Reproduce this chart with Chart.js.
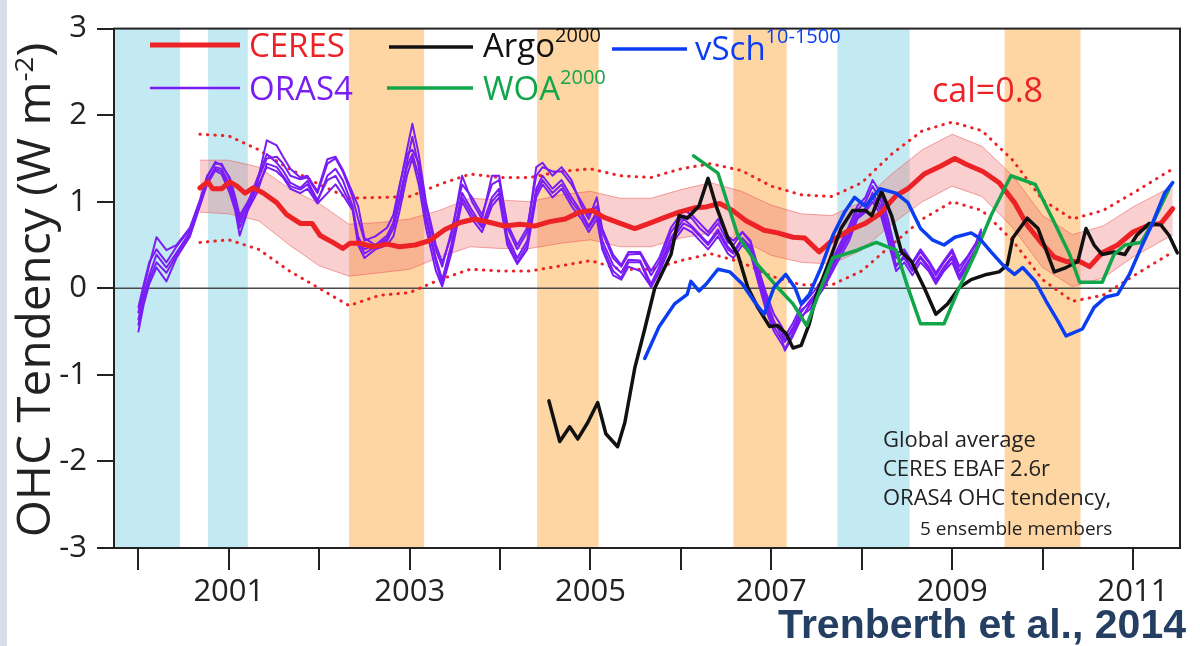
<!DOCTYPE html>
<html>
<head>
<meta charset="utf-8">
<script src="https://cdn.jsdelivr.net/npm/chart.js@4.4.1/dist/chart.umd.min.js"></script>
<style>
  html, body { margin: 0; padding: 0; background: #fff; }
  #wrap { width: 1200px; height: 646px; }
</style>
</head>
<body>
<div id="wrap"><canvas id="ohc" width="1200" height="646"></canvas></div>
<script>
// ENSO shading (decimal years)
const coldSpans = [[1999.6, 2000.46], [2000.77, 2001.21], [2007.73, 2008.53]];
const warmSpans = [[2002.33, 2003.16], [2004.41, 2005.09], [2006.58, 2007.17], [2009.58, 2010.42]];

const xTickYears = [2001, 2003, 2005, 2007, 2009, 2011];

// CERES (calibrated), [year, W m-2]
const ceres = [
  [2000.68, 1.16], [2000.77, 1.23], [2000.82, 1.15], [2000.92, 1.15], [2001.01, 1.23],
  [2001.09, 1.18], [2001.18, 1.10], [2001.27, 1.16], [2001.38, 1.10], [2001.53, 0.99],
  [2001.64, 0.85], [2001.79, 0.75], [2001.92, 0.75], [2002.01, 0.61], [2002.15, 0.53],
  [2002.26, 0.46], [2002.34, 0.52], [2002.45, 0.52], [2002.59, 0.48], [2002.75, 0.51],
  [2002.89, 0.48], [2003.06, 0.50], [2003.22, 0.55], [2003.39, 0.68], [2003.56, 0.76],
  [2003.72, 0.80], [2003.89, 0.76], [2004.05, 0.72], [2004.22, 0.74], [2004.39, 0.72],
  [2004.55, 0.77], [2004.72, 0.80], [2004.88, 0.88], [2005.02, 0.90], [2005.15, 0.82],
  [2005.33, 0.75], [2005.49, 0.69], [2005.65, 0.75], [2005.80, 0.81], [2005.98, 0.88],
  [2006.15, 0.93], [2006.28, 0.94], [2006.43, 0.98], [2006.57, 0.90], [2006.72, 0.78],
  [2006.92, 0.67], [2007.07, 0.64], [2007.24, 0.59], [2007.37, 0.58], [2007.53, 0.42],
  [2007.68, 0.56], [2007.86, 0.67], [2008.04, 0.75], [2008.20, 0.86], [2008.38, 1.07],
  [2008.51, 1.15], [2008.69, 1.32], [2008.87, 1.41], [2009.03, 1.50], [2009.16, 1.43],
  [2009.34, 1.35], [2009.52, 1.22], [2009.69, 0.99], [2009.83, 0.73], [2009.99, 0.52],
  [2010.13, 0.36], [2010.26, 0.31], [2010.41, 0.31], [2010.52, 0.25], [2010.66, 0.41],
  [2010.83, 0.50], [2011.00, 0.65], [2011.18, 0.73], [2011.31, 0.75], [2011.44, 0.92]
];

// CERES uncertainty: shaded band and dotted outer bounds
const bandT  = [2000.68, 2001.0, 2001.33, 2001.67, 2002.0, 2002.33, 2002.67, 2003.0, 2003.33, 2003.67, 2004.0,
                2004.33, 2004.67, 2005.0, 2005.33, 2005.67, 2006.0, 2006.33, 2006.67, 2007.0, 2007.33, 2007.67,
                2008.0, 2008.33, 2008.67, 2009.0, 2009.33, 2009.67, 2010.0, 2010.33, 2010.67, 2011.0, 2011.44];
const bandHi = [1.48, 1.48, 1.40, 1.15, 0.98, 0.74, 0.76, 0.80, 0.90, 1.04, 1.02,
                1.00, 1.08, 1.12, 1.04, 1.04, 1.14, 1.22, 1.12, 0.96, 0.86, 0.84,
                1.00, 1.32, 1.60, 1.78, 1.64, 1.30, 0.84, 0.62, 0.72, 0.94, 1.18];
const bandLo = [0.88, 0.86, 0.78, 0.50, 0.26, 0.14, 0.18, 0.22, 0.36, 0.48, 0.46,
                0.46, 0.52, 0.56, 0.48, 0.48, 0.58, 0.64, 0.56, 0.38, 0.30, 0.28,
                0.44, 0.74, 1.00, 1.18, 1.06, 0.70, 0.24, 0.02, 0.12, 0.36, 0.62];
const dotHi  = [1.78, 1.76, 1.60, 1.38, 1.20, 1.04, 1.05, 1.06, 1.20, 1.32, 1.28,
                1.28, 1.35, 1.38, 1.30, 1.28, 1.38, 1.44, 1.36, 1.18, 1.08, 1.06,
                1.22, 1.55, 1.82, 1.92, 1.82, 1.48, 1.02, 0.80, 0.90, 1.10, 1.38];
const dotLo  = [0.53, 0.56, 0.45, 0.20, 0.00, -0.20, -0.08, -0.05, 0.10, 0.22, 0.20,
                0.20, 0.26, 0.32, 0.22, 0.22, 0.32, 0.40, 0.30, 0.14, 0.04, 0.04,
                0.20, 0.50, 0.80, 1.00, 0.90, 0.55, 0.10, -0.15, -0.08, 0.14, 0.42];

// ORAS4 OHC tendency, 5 ensemble members on a shared time axis
const orasT = [
  2000.00, 2000.06, 2000.12, 2000.20, 2000.31, 2000.42, 2000.57, 2000.68, 2000.76, 2000.85,
  2000.92, 2001.01, 2001.07, 2001.12, 2001.21, 2001.31, 2001.42, 2001.53, 2001.60, 2001.68,
  2001.79, 2001.87, 2001.98, 2002.09, 2002.18, 2002.26, 2002.37, 2002.43, 2002.50, 2002.62,
  2002.75, 2002.82, 2002.89, 2002.97, 2003.03, 2003.10, 2003.18, 2003.29, 2003.36, 2003.46,
  2003.58, 2003.69, 2003.80, 2003.91, 2003.99, 2004.08, 2004.19, 2004.30, 2004.40, 2004.47,
  2004.58, 2004.68, 2004.79, 2004.90, 2004.98, 2005.07, 2005.13, 2005.25, 2005.34, 2005.42,
  2005.55, 2005.67, 2005.76, 2005.89, 2006.03, 2006.12, 2006.21, 2006.30, 2006.41, 2006.52,
  2006.58, 2006.68, 2006.77, 2006.86, 2006.94, 2007.03, 2007.12, 2007.15, 2007.24, 2007.33,
  2007.42, 2007.50, 2007.59, 2007.73, 2007.86, 2007.95, 2008.04, 2008.12, 2008.21, 2008.29,
  2008.38, 2008.47, 2008.56, 2008.65, 2008.74, 2008.82, 2008.91, 2009.00, 2009.08, 2009.17,
  2009.26, 2009.32
];
const oras1 = [
  -0.50, -0.18, 0.05, 0.24, 0.08, 0.35, 0.60, 0.95, 1.20, 1.36,
  1.32, 1.10, 0.90, 0.61, 0.90, 1.10, 1.44, 1.40, 1.30, 1.18,
  1.14, 1.20, 1.00, 1.30, 1.38, 1.25, 0.95, 0.60, 0.45, 0.50,
  0.55, 0.70, 1.00, 1.40, 1.55, 1.30, 0.80, 0.30, 0.05, 0.45,
  1.05, 0.85, 0.70, 1.00, 1.10, 0.55, 0.30, 0.50, 1.10, 1.25,
  1.10, 1.20, 1.00, 0.85, 0.70, 0.85, 0.50, 0.20, 0.12, 0.30,
  0.30, 0.01, 0.20, 0.55, 0.75, 0.70, 0.60, 0.50, 0.65, 0.45,
  0.40, 0.55, 0.45, 0.10, -0.20, -0.45, -0.60, -0.72, -0.55, -0.35,
  -0.20, -0.10, 0.05, 0.35, 0.60, 0.82, 0.90, 1.05, 0.90, 0.60,
  0.27, 0.35, 0.20, 0.35, 0.22, 0.08, 0.22, 0.35, 0.12, 0.27,
  0.42, 0.60
];
const oras2 = [
  -0.28, 0.00, 0.27, 0.59, 0.44, 0.50, 0.70, 1.02, 1.30, 1.44,
  1.44, 1.26, 1.03, 0.80, 0.95, 1.20, 1.71, 1.65, 1.52, 1.38,
  1.28, 1.30, 1.12, 1.49, 1.52, 1.37, 1.10, 0.95, 0.58, 0.50,
  0.61, 0.76, 1.18, 1.60, 1.90, 1.55, 1.00, 0.50, 0.30, 0.60,
  1.30, 1.00, 0.80, 1.30, 1.30, 0.70, 0.45, 0.65, 1.40, 1.45,
  1.30, 1.40, 1.25, 0.95, 0.80, 1.05, 0.69, 0.39, 0.27, 0.42,
  0.42, 0.20, 0.35, 0.70, 0.90, 0.85, 0.75, 0.65, 0.80, 0.60,
  0.55, 0.65, 0.55, 0.22, -0.05, -0.30, -0.45, -0.55, -0.40, -0.20,
  -0.10, 0.00, 0.15, 0.45, 0.72, 0.95, 1.05, 1.25, 1.10, 0.80,
  0.40, 0.45, 0.30, 0.45, 0.32, 0.18, 0.32, 0.45, 0.25, 0.37,
  0.52, 0.68
];
const oras3 = [
  -0.36, -0.08, 0.15, 0.39, 0.24, 0.41, 0.65, 0.99, 1.22, 1.40,
  1.38, 1.20, 0.98, 0.70, 0.92, 1.16, 1.40, 1.35, 1.28, 1.15,
  1.10, 1.15, 0.98, 1.10, 1.20, 1.08, 0.90, 0.50, 0.35, 0.45,
  0.50, 0.60, 0.90, 1.30, 1.50, 1.20, 0.70, 0.20, 0.02, 0.40,
  1.00, 0.80, 0.65, 0.95, 1.05, 0.50, 0.28, 0.45, 1.05, 1.20,
  1.05, 1.15, 0.95, 0.80, 0.65, 0.80, 0.45, 0.15, 0.10, 0.25,
  0.20, 0.02, 0.18, 0.50, 0.70, 0.65, 0.55, 0.45, 0.60, 0.40,
  0.35, 0.50, 0.40, 0.05, -0.25, -0.50, -0.65, -0.70, -0.52, -0.32,
  -0.25, -0.12, 0.02, 0.30, 0.55, 0.80, 0.88, 1.00, 0.85, 0.55,
  0.20, 0.30, 0.15, 0.30, 0.20, 0.05, 0.20, 0.30, 0.10, 0.25,
  0.40, 0.55
];
const oras4 = [
  -0.22, 0.05, 0.30, 0.45, 0.30, 0.48, 0.68, 1.00, 1.28, 1.46,
  1.42, 1.28, 1.06, 0.84, 1.00, 1.22, 1.50, 1.52, 1.44, 1.30,
  1.26, 1.28, 1.10, 1.44, 1.50, 1.35, 1.05, 0.80, 0.55, 0.60,
  0.70, 0.85, 1.20, 1.55, 1.60, 1.45, 0.95, 0.45, 0.25, 0.65,
  1.20, 1.05, 0.85, 1.20, 1.25, 0.75, 0.50, 0.70, 1.30, 1.40,
  1.35, 1.35, 1.20, 1.00, 0.85, 0.95, 0.65, 0.35, 0.25, 0.39,
  0.40, 0.15, 0.30, 0.65, 0.84, 0.81, 0.69, 0.61, 0.75, 0.53,
  0.50, 0.65, 0.53, 0.19, -0.10, -0.38, -0.56, -0.62, -0.48, -0.28,
  -0.15, -0.05, 0.10, 0.42, 0.68, 0.90, 1.00, 1.18, 1.02, 0.72,
  0.35, 0.42, 0.28, 0.42, 0.30, 0.15, 0.30, 0.42, 0.20, 0.35,
  0.50, 0.65
];
const oras5 = [
  -0.42, -0.12, 0.10, 0.30, 0.18, 0.38, 0.62, 0.96, 1.24, 1.38,
  1.35, 1.15, 0.95, 0.76, 0.98, 1.26, 1.55, 1.45, 1.36, 1.22,
  1.16, 1.24, 1.02, 1.25, 1.30, 1.15, 0.92, 0.55, 0.40, 0.48,
  0.58, 0.70, 1.05, 1.45, 1.75, 1.40, 0.85, 0.35, 0.10, 0.50,
  1.10, 0.90, 0.72, 1.05, 1.15, 0.60, 0.35, 0.55, 1.15, 1.30,
  1.15, 1.25, 1.05, 0.88, 0.72, 0.88, 0.55, 0.27, 0.18, 0.33,
  0.32, 0.05, 0.25, 0.58, 0.80, 0.72, 0.62, 0.52, 0.68, 0.48,
  0.42, 0.58, 0.48, 0.12, -0.15, -0.42, -0.50, -0.60, -0.45, -0.25,
  -0.18, -0.07, 0.08, 0.38, 0.63, 0.85, 0.92, 1.10, 0.95, 0.65,
  0.25, 0.38, 0.22, 0.37, 0.25, 0.10, 0.25, 0.37, 0.15, 0.30,
  0.45, 0.62
];

// Argo (0-2000 m)
const argo = [
  [2004.54, -1.30], [2004.66, -1.77], [2004.77, -1.60], [2004.86, -1.74], [2004.97, -1.55],
  [2005.08, -1.32], [2005.17, -1.68], [2005.30, -1.83], [2005.38, -1.55], [2005.49, -0.92],
  [2005.60, -0.47], [2005.71, 0.00], [2005.89, 0.39], [2005.98, 0.84], [2006.07, 0.81],
  [2006.20, 0.95], [2006.30, 1.27], [2006.39, 0.95], [2006.52, 0.58], [2006.63, 0.39],
  [2006.74, 0.01], [2006.85, -0.22], [2006.98, -0.44], [2007.07, -0.43], [2007.16, -0.52],
  [2007.24, -0.69], [2007.33, -0.66], [2007.42, -0.41], [2007.50, -0.07], [2007.64, 0.31],
  [2007.77, 0.69], [2007.90, 0.90], [2008.04, 0.90], [2008.11, 0.84], [2008.22, 1.12],
  [2008.33, 0.84], [2008.44, 0.42], [2008.55, 0.31], [2008.69, 0.01], [2008.82, -0.30],
  [2008.95, -0.18], [2009.08, 0.01], [2009.21, 0.10], [2009.38, 0.16], [2009.52, 0.19],
  [2009.61, 0.27], [2009.67, 0.58], [2009.83, 0.81], [2009.95, 0.69], [2010.13, 0.19],
  [2010.26, 0.24], [2010.39, 0.31], [2010.48, 0.69], [2010.57, 0.50], [2010.66, 0.39],
  [2010.79, 0.42], [2010.91, 0.39], [2011.04, 0.61], [2011.18, 0.75], [2011.31, 0.73],
  [2011.40, 0.61], [2011.49, 0.41]
];

// WOA (0-2000 m)
const woa = [
  [2006.14, 1.53], [2006.41, 1.33], [2006.63, 0.61], [2006.85, 0.27], [2007.07, 0.01],
  [2007.24, -0.18], [2007.39, -0.43], [2007.55, 0.01], [2007.68, 0.35], [2007.95, 0.44],
  [2008.16, 0.53], [2008.38, 0.44], [2008.51, 0.01], [2008.65, -0.41], [2008.91, -0.41],
  [2009.08, 0.01], [2009.25, 0.39], [2009.43, 0.84], [2009.65, 1.30], [2009.92, 1.20],
  [2010.13, 0.76], [2010.30, 0.39], [2010.41, 0.07], [2010.66, 0.07], [2010.79, 0.39],
  [2010.91, 0.50], [2011.09, 0.53], [2011.22, 0.76], [2011.40, 1.15]
];

// von Schuckmann (10-1500 m)
const vsch = [
  [2005.60, -0.81], [2005.76, -0.44], [2005.93, -0.18], [2006.07, -0.07], [2006.11, 0.08],
  [2006.20, -0.03], [2006.28, 0.05], [2006.41, 0.22], [2006.54, 0.19], [2006.68, 0.05],
  [2006.81, -0.15], [2006.92, -0.30], [2007.03, 0.01], [2007.16, 0.16], [2007.26, 0.01],
  [2007.33, -0.18], [2007.42, -0.07], [2007.55, 0.24], [2007.68, 0.61], [2007.81, 0.88],
  [2007.92, 1.05], [2008.04, 0.95], [2008.20, 1.15], [2008.38, 1.10], [2008.51, 0.99],
  [2008.65, 0.69], [2008.78, 0.56], [2008.91, 0.50], [2009.03, 0.59], [2009.21, 0.64],
  [2009.30, 0.58], [2009.43, 0.42], [2009.56, 0.27], [2009.69, 0.16], [2009.78, 0.24],
  [2009.92, 0.08], [2010.04, -0.15], [2010.17, -0.38], [2010.26, -0.55], [2010.44, -0.47],
  [2010.57, -0.22], [2010.70, -0.10], [2010.83, -0.07], [2010.96, 0.16], [2011.09, 0.47],
  [2011.22, 0.76], [2011.35, 1.10], [2011.44, 1.22]
];

const FONT = "'Open Sans', 'DejaVu Sans', sans-serif";
const C = {
  ceres: '#ec2227', oras: '#7a1df5', argo: '#111111', woa: '#12a64b', vsch: '#0b3ef2',
  cold: '#c3eaf3', warm: '#fdd6a3', axis: '#222222', text: '#222222'
};

const pts = arr => arr.map(([x, y]) => ({ x, y }));
const zip = (ts, vs) => ts.map((t, i) => ({ x: t, y: vs[i] }));

const line = (data, color, width, extra) => Object.assign({
  data, borderColor: color, borderWidth: width, pointRadius: 0,
  tension: 0, fill: false, borderJoinStyle: 'round', borderCapStyle: 'round'
}, extra || {});

// draws a run of text pieces [text, size, dy] starting at x
function rich(ctx, parts, x, y, align) {
  const font = p => `${p[1]}px ${FONT}`;
  let total = 0;
  parts.forEach(p => { ctx.font = font(p); total += ctx.measureText(p[0]).width; });
  let cx = align === 'center' ? x - total / 2 : (align === 'right' ? x - total : x);
  ctx.textAlign = 'left';
  parts.forEach(p => {
    ctx.font = font(p);
    ctx.fillText(p[0], cx, y + p[2]);
    cx += ctx.measureText(p[0]).width;
  });
}

const overlay = {
  id: 'overlay',
  beforeDraw(chart) {
    const { ctx, width, height } = chart;
    ctx.save();
    ctx.fillStyle = '#ffffff';
    ctx.fillRect(0, 0, width, height);
    ctx.fillStyle = '#d7dee7';
    ctx.fillRect(0, 0, 7, height);
    ctx.restore();
  },
  beforeDatasetsDraw(chart) {
    const { ctx, chartArea: a, scales: { x, y } } = chart;
    ctx.save();
    const shade = (spans, color) => {
      ctx.fillStyle = color;
      spans.forEach(([s, e]) => {
        const l = Math.max(a.left, x.getPixelForValue(s));
        const r = Math.min(a.right, x.getPixelForValue(e));
        ctx.fillRect(l, a.top, r - l, a.bottom - a.top);
      });
    };
    shade(coldSpans, C.cold);
    shade(warmSpans, C.warm);
    const y0 = y.getPixelForValue(0);
    ctx.strokeStyle = '#4a4a4a';
    ctx.lineWidth = 1.5;
    ctx.beginPath();
    ctx.moveTo(a.left, y0);
    ctx.lineTo(a.right, y0);
    ctx.stroke();
    ctx.restore();
  },
  afterDraw(chart) {
    const { ctx, chartArea: a } = chart;
    ctx.save();
    // frame
    ctx.strokeStyle = C.axis;
    ctx.lineWidth = 2;
    ctx.strokeRect(a.left, a.top, a.right - a.left, a.bottom - a.top);

    // legend
    ctx.textBaseline = 'alphabetic';
    const seg = (x1, x2, yy, color, w) => {
      ctx.strokeStyle = color; ctx.lineWidth = w; ctx.lineCap = 'butt';
      ctx.beginPath(); ctx.moveTo(x1, yy); ctx.lineTo(x2, yy); ctx.stroke();
    };
    seg(150, 240, 45, C.ceres, 5);
    ctx.fillStyle = C.ceres; rich(ctx, [['CERES', 33, 0]], 249, 57);
    seg(150, 240, 88, C.oras, 2.5);
    ctx.fillStyle = C.oras; rich(ctx, [['ORAS4', 33, 0]], 249, 100);
    seg(389, 473, 47, C.argo, 3.5);
    ctx.fillStyle = C.argo; rich(ctx, [['Argo', 33, 0], ['2000', 20, -15]], 483, 57);
    seg(387, 473, 88, C.woa, 3.5);
    ctx.fillStyle = C.woa; rich(ctx, [['WOA', 33, 0], ['2000', 20, -16]], 483, 100);
    seg(612, 687, 49, C.vsch, 3.5);
    ctx.fillStyle = C.vsch; rich(ctx, [['vSch', 33, 0], ['10-1500', 20, -17]], 695, 60);
    ctx.fillStyle = C.ceres; rich(ctx, [['cal=0.8', 34, 0]], 932, 102);

    // note
    ctx.fillStyle = C.text;
    rich(ctx, [['Global average', 22, 0]], 883, 447);
    rich(ctx, [['CERES EBAF 2.6r', 22, 0]], 883, 476);
    rich(ctx, [['ORAS4 OHC tendency,', 22, 0]], 883, 505);
    rich(ctx, [['5 ensemble members', 19, 0]], 920, 535);

    // y-axis title
    ctx.save();
    ctx.translate(50, 290);
    ctx.rotate(-Math.PI / 2);
    ctx.scale(1.06, 1);
    ctx.fillStyle = C.text;
    rich(ctx, [['OHC Tendency (W m', 45, 0], ['-2', 26, -17], [')', 45, 0]], 0, 0, 'center');
    ctx.restore();

    // citation
    ctx.fillStyle = '#243f62';
    ctx.textAlign = 'right';
    ctx.font = "bold 41px 'Liberation Sans', Arial, sans-serif";
    ctx.fillText('Trenberth et al., 2014', 1186, 638);
    ctx.restore();
  }
};

const datasets = [
  line(pts(vsch), C.vsch, 3.5),
  line(pts(woa), C.woa, 3.5),
  line(pts(argo), C.argo, 3.5),
  line(pts(ceres), C.ceres, 5),
  line(zip(orasT, oras1), C.oras, 2),
  line(zip(orasT, oras2), C.oras, 2),
  line(zip(orasT, oras3), C.oras, 2),
  line(zip(orasT, oras4), C.oras, 2),
  line(zip(orasT, oras5), C.oras, 2),
  line(zip(bandT, dotHi), C.ceres, 3, { borderDash: [0.5, 7] }),
  line(zip(bandT, dotLo), C.ceres, 3, { borderDash: [0.5, 7] }),
  line(zip(bandT, bandHi), 'rgba(236,90,90,0.55)', 1),
  line(zip(bandT, bandLo), 'rgba(236,90,90,0.55)', 1, { fill: '-1', backgroundColor: 'rgba(240,110,110,0.33)' })
];

new Chart(document.getElementById('ohc'), {
  type: 'line',
  data: { datasets },
  plugins: [overlay],
  options: {
    responsive: false,
    devicePixelRatio: 1,
    animation: false,
    layout: { padding: { top: 20, right: 20, left: 0, bottom: 0 } },
    plugins: { legend: { display: false }, tooltip: { enabled: false } },
    scales: {
      x: {
        type: 'linear',
        min: 1999.73,
        max: 2011.52,
        afterFit: s => { s.height = 98; },
        grid: { drawOnChartArea: false, drawTicks: true, tickLength: 22, color: C.axis, lineWidth: 2 },
        border: { color: C.axis, width: 2 },
        ticks: {
          stepSize: 1,
          autoSkip: false,
          includeBounds: false,
          maxRotation: 0,
          padding: 4,
          color: C.text,
          font: { family: FONT, size: 31 },
          callback: v => xTickYears.includes(Math.round(v)) ? String(Math.round(v)) : ''
        }
      },
      y: {
        min: -3,
        max: 3,
        afterFit: s => { s.width = 114; },
        grid: { drawOnChartArea: false, drawTicks: true, tickLength: 17, color: C.axis, lineWidth: 2 },
        border: { color: C.axis, width: 2 },
        ticks: {
          stepSize: 1,
          padding: 10,
          color: C.text,
          font: { family: FONT, size: 31 }
        }
      }
    }
  }
});
</script>
</body>
</html>
